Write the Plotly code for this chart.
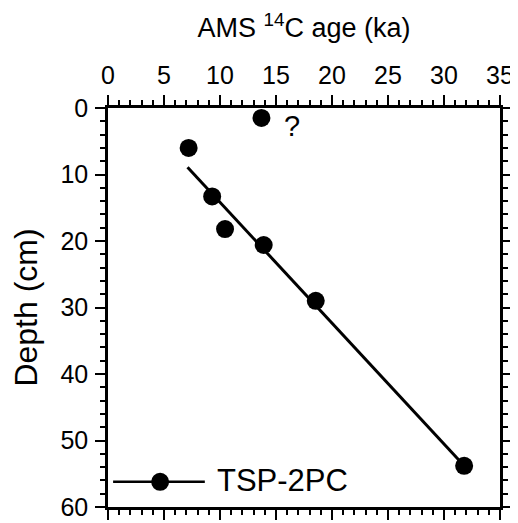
import plotly.graph_objects as go

# Data
age_ka = [13.7, 7.2, 9.3, 10.45, 13.9, 18.55, 31.8]
depth_cm = [1.5, 6.0, 13.3, 18.2, 20.6, 29.0, 53.8]
fit_age = [7.1, 31.8]
fit_depth = [8.9, 53.8]
x_ticks = [0, 5, 10, 15, 20, 25, 30, 35]
y_ticks = [0, 10, 20, 30, 40, 50, 60]
series_name = "TSP-2PC"
query_label = "?"

FONT = "Liberation Sans, Arial, Helvetica, sans-serif"

fig = go.Figure()
fig.add_trace(go.Scatter(x=fit_age, y=fit_depth, mode="lines",
                         line=dict(color="black", width=3), showlegend=False,
                         hoverinfo="skip"))
fig.add_trace(go.Scatter(x=age_ka, y=depth_cm, mode="markers", name=series_name,
                         marker=dict(color="black", size=18, symbol="circle"),
                         showlegend=False))

# "?" label next to the topmost sample
fig.add_annotation(x=age_ka[0], y=depth_cm[0], text=query_label, showarrow=False,
                   xanchor="left", yanchor="middle", xshift=21, yshift=-8,
                   font=dict(size=29, color="black", family=FONT))

# Custom legend (long line with centered marker), in paper coordinates
fig.add_shape(type="line", xref="paper", yref="paper", x0=0.013, x1=0.247,
              y0=0.063, y1=0.063, line=dict(color="black", width=2.5))
fig.add_shape(type="circle", xref="paper", yref="paper", xsizemode="pixel",
              ysizemode="pixel", xanchor=0.133, yanchor=0.063,
              x0=-9, x1=9, y0=-9, y1=9, fillcolor="black",
              line=dict(color="black", width=0))
fig.add_annotation(xref="paper", yref="paper", x=0.272, y=0.066, text=series_name,
                   showarrow=False, xanchor="left", yanchor="middle",
                   font=dict(size=31, color="black", family=FONT))

axis_common = dict(showline=True, linecolor="black", linewidth=2.5, mirror="ticks",
                   ticks="outside", ticklen=10, tickwidth=2, tickcolor="black",
                   showgrid=False, zeroline=False, automargin=False,
                   tickfont=dict(size=25, color="black", family=FONT))

fig.update_xaxes(side="top", range=[0, 35], tickvals=x_ticks,
                 ticktext=[str(v) for v in x_ticks],
                 minor=dict(dtick=1, ticks="outside", ticklen=5, tickwidth=2,
                            tickcolor="black"),
                 title=dict(text="AMS <sup>14</sup>C age (ka)", standoff=16,
                            font=dict(size=27, color="black", family=FONT)),
                 ticklabelstandoff=1,
                 **axis_common)
fig.update_yaxes(range=[60, 0], tickvals=y_ticks,
                 ticktext=[str(v) for v in y_ticks],
                 minor=dict(dtick=2, ticks="outside", ticklen=5, tickwidth=2,
                            tickcolor="black"),
                 title=dict(text="Depth (cm)", standoff=16,
                            font=dict(size=32, color="black", family=FONT)),
                 ticklabelstandoff=2,
                 **axis_common)

# The page adds an 8px body margin, so the figure is sized to fill the rest
fig.update_layout(width=510, height=515, margin=dict(l=100, r=18, t=100, b=16),
                  plot_bgcolor="white", paper_bgcolor="white",
                  font=dict(family=FONT, color="black"), showlegend=False)

fig.write_html("out.html")
